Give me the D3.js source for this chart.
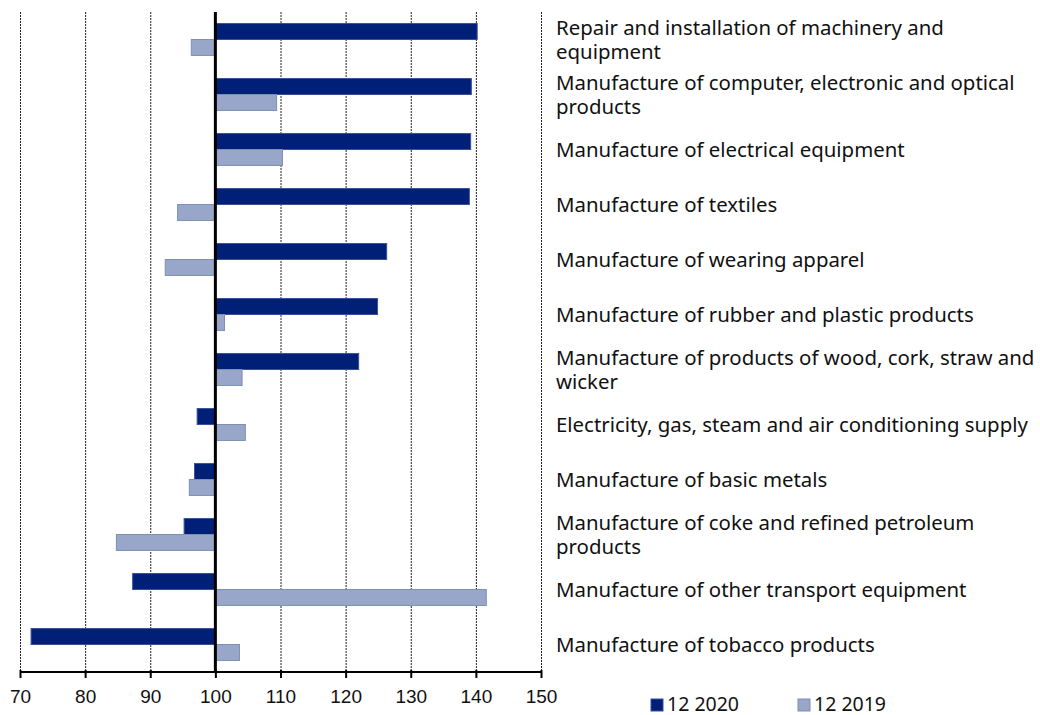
<!DOCTYPE html>
<html>
<head>
<meta charset="utf-8">
<script src="https://cdn.jsdelivr.net/npm/d3@7"></script>
<style>
  body { margin: 0; background: #fff; }
  svg { font-family: "Noto Sans", "Open Sans", sans-serif; }
</style>
</head>
<body>
<svg id="chart"></svg>
<script>
// Categories (top to bottom); "\n" marks a line break in the label
const categories = [
    "Repair and installation of machinery and\nequipment",
    "Manufacture of computer, electronic and optical\nproducts",
    "Manufacture of electrical equipment",
    "Manufacture of textiles",
    "Manufacture of wearing apparel",
    "Manufacture of rubber and plastic products",
    "Manufacture of products of wood, cork, straw and\nwicker",
    "Electricity, gas, steam and air conditioning supply",
    "Manufacture of basic metals",
    "Manufacture of coke and refined petroleum\nproducts",
    "Manufacture of other transport equipment",
    "Manufacture of tobacco products"
];

const values2020 = [140.2, 139.3, 139.2, 139.0, 126.3, 124.9, 122.0, 97.2, 96.8, 95.2, 87.3, 71.7];
const values2019 = [96.3, 109.4, 110.3, 94.2, 92.3, 101.4, 104.1, 104.6, 96.0, 84.8, 141.6, 103.7];

const seriesNames = ["12 2020", "12 2019"];
const tickValues = [70, 80, 90, 100, 110, 120, 130, 140, 150];
const baseline = 100;

// Chart dimensions
const width = 1040;
const height = 715;
const margin = { top: 12, left: 20, right: 499, bottom: 43 };

const svg = d3.select("#chart")
    .attr("width", width)
    .attr("height", height);

const xScale = d3.scaleLinear()
    .domain([70, 150])
    .range([margin.left, width - margin.right]);

const yScale = d3.scaleBand()
    .domain(categories)
    .range([margin.top, height - margin.bottom])
    .paddingInner(0.42)
    .paddingOuter(0.21);

const subScale = d3.scaleBand()
    .domain(seriesNames)
    .range([0, yScale.bandwidth()]);

const colors = { "12 2020": "#001f77", "12 2019": "#98a6c9" };
const strokes = { "12 2020": "#3b4f98", "12 2019": "#7d90b2" };

const plotTop = margin.top;
const plotBottom = height - margin.bottom;

// Dotted gridlines
svg.append("g")
    .selectAll("line")
    .data(tickValues.filter(d => d !== baseline))
    .enter()
    .append("line")
    .attr("x1", d => xScale(d) + 0.5)
    .attr("x2", d => xScale(d) + 0.5)
    .attr("y1", plotTop)
    .attr("y2", plotBottom)
    .attr("stroke", "#222")
    .attr("stroke-width", 1)
    .attr("stroke-dasharray", "2,1");

// Bars
const rows = categories.map((c, i) => ({ cat: c, vals: [values2020[i], values2019[i]] }));

const groups = svg.append("g")
    .selectAll("g")
    .data(rows)
    .enter()
    .append("g")
    .attr("transform", d => `translate(0, ${yScale(d.cat)})`);

groups.selectAll("rect")
    .data(d => d.vals.map((v, j) => ({ series: seriesNames[j], value: v })))
    .enter()
    .append("rect")
    .attr("x", d => xScale(Math.min(d.value, baseline)))
    .attr("y", d => subScale(d.series))
    .attr("width", d => Math.abs(xScale(d.value) - xScale(baseline)))
    .attr("height", subScale.bandwidth())
    .attr("fill", d => colors[d.series])
    .attr("stroke", d => strokes[d.series])
    .attr("stroke-width", 1);

// Baseline at 100
svg.append("line")
    .attr("x1", xScale(baseline))
    .attr("x2", xScale(baseline))
    .attr("y1", plotTop)
    .attr("y2", plotBottom)
    .attr("stroke", "#000")
    .attr("stroke-width", 3);

// X axis
const xAxis = d3.axisBottom(xScale)
    .tickValues(tickValues)
    .tickSize(6)
    .tickPadding(12)
    .tickFormat(d3.format("d"));

const axisG = svg.append("g")
    .attr("transform", `translate(0, ${plotBottom})`)
    .call(xAxis);

axisG.select(".domain")
    .attr("stroke", "#000")
    .attr("stroke-width", 2)
    .attr("d", `M${xScale(70)},0H${xScale(150)}`);

axisG.selectAll(".tick line")
    .attr("stroke", "#000")
    .attr("stroke-width", 2)
    .attr("y1", -2);

axisG.selectAll(".tick text")
    .attr("fill", "#111")
    .style("font-size", "19px");

// Category labels on the right
const labelX = 556;
const labels = svg.append("g")
    .selectAll("text")
    .data(categories)
    .enter()
    .append("text")
    .attr("x", labelX)
    .attr("y", d => yScale(d) + yScale.bandwidth() / 2)
    .attr("fill", "#111")
    .style("font-size", "20.4px");

labels.each(function(d) {
    const lines = d.split("\n");
    const lineH = 24;
    const start = -(lines.length - 1) * lineH / 2;
    d3.select(this).selectAll("tspan")
        .data(lines)
        .enter()
        .append("tspan")
        .attr("x", labelX)
        .attr("dy", (l, k) => k === 0 ? start + 7 : lineH)
        .text(l => l);
});

// Legend
const legendX = [651, 798];
const legend = svg.append("g")
    .selectAll("g")
    .data(seriesNames)
    .enter()
    .append("g")
    .attr("transform", (d, i) => `translate(${legendX[i]}, 699)`);

legend.append("rect")
    .attr("width", 12)
    .attr("height", 12)
    .attr("fill", d => colors[d])
    .attr("stroke", d => strokes[d]);

legend.append("text")
    .attr("x", 16)
    .attr("y", 12)
    .attr("fill", "#111")
    .style("font-size", "19.5px")
    .text(d => d);
</script>
</body>
</html>
